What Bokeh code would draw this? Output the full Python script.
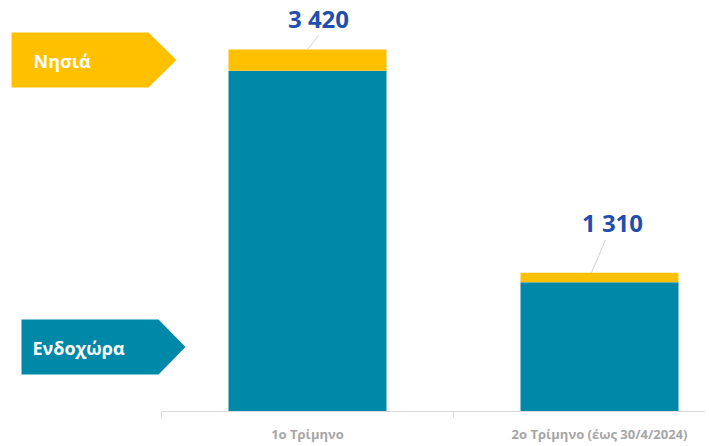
from bokeh.plotting import figure
from bokeh.models import Range1d, FixedTicker, ColumnDataSource
from bokeh.core.properties import value
from bokeh.embed import file_html
from bokeh.resources import INLINE

# ---- data ----
categories = ["1ο Τρίμηνο", "2ο Τρίμηνο (έως 30/4/2024)"]
endoxora = [3220, 1220]
nisia = [200, 90]
totals = [3420, 1310]
total_labels = ["3 420", "1 310"]
series_names = ["Ενδοχώρα", "Νησιά"]

TEAL = "#0088A8"
YELLOW = "#FFC000"
LABEL_BLUE = "#1F4EAF"

FW, FH = 705, 411
PX_PER_CAT = 292.0
PX_PER_UNIT = 362.0 / 3420.0
X0 = -307.0 / PX_PER_CAT
Y_END = FH / PX_PER_UNIT


def sx(px):
    """screen pixel x -> data x"""
    return X0 + px / PX_PER_CAT


def sy(py):
    """screen pixel y -> data y"""
    return Y_END - py / PX_PER_UNIT


p = figure(frame_width=FW, frame_height=FH, output_backend="svg", toolbar_location=None,
           x_range=Range1d(X0, X0 + FW / PX_PER_CAT), y_range=Range1d(0, Y_END),
           min_border=0, outline_line_color=None)
p.grid.visible = False
p.yaxis.visible = False
p.background_fill_color = "white"
p.border_fill_color = "white"

xs = list(range(len(categories)))
src = ColumnDataSource(dict(x=xs, endoxora=endoxora, nisia=nisia))
p.vbar_stack(["endoxora", "nisia"], x="x", width=158 / PX_PER_CAT,
             color=[TEAL, YELLOW], line_color=None, source=src)

ax = p.xaxis[0]
ax.ticker = FixedTicker(ticks=xs, minor_ticks=[-0.5, 0.5, 1.5])
ax.major_label_overrides = {i: c for i, c in enumerate(categories)}
ax.bounds = (-0.5, 1.5)
ax.axis_line_color = "#D9D9D9"
ax.major_tick_out = 0
ax.major_tick_in = 0
ax.minor_tick_out = 6
ax.minor_tick_in = 0
ax.minor_tick_line_color = "#D9D9D9"
ax.major_label_text_font = "Open Sans"
ax.major_label_text_font_size = "13px"
ax.major_label_text_font_style = "bold"
ax.major_label_text_color = "#A6A6A6"
ax.major_label_standoff = 7

# total labels with leader lines (label offsets in screen pixels)
lab_dx = [11, 13]
lab_dy = [31, 50]
lab_x = [x + dx / PX_PER_CAT for x, dx in zip(xs, lab_dx)]
lab_y = [t + dy / PX_PER_UNIT for t, dy in zip(totals, lab_dy)]
p.text(x=lab_x, y=lab_y, text=total_labels, text_font=value("Open Sans"),
       text_font_style="bold", text_font_size="24px", text_color=LABEL_BLUE,
       text_align="center", text_baseline="middle")
lead_x0 = [x + d / PX_PER_CAT for x, d in zip(xs, [0, -8])]
lead_x1 = [x + d / PX_PER_CAT for x, d in zip(xs, [11, 6])]
lead_y1 = [t + d / PX_PER_UNIT for t, d in zip(totals, [14, 33])]
p.segment(x0=lead_x0, y0=totals, x1=lead_x1, y1=lead_y1,
          line_color="#D0D0D0", line_width=1)

# pentagon series tags
tags = [
    (series_names[1], YELLOW, 11, 32, 148, 176, 87, 33),
    (series_names[0], TEAL, 21, 319, 158, 185, 374, 32),
]
for name, col, l, t, r, tip, b, tx in tags:
    mid = (t + b) / 2
    p.patch(x=[sx(l), sx(r), sx(tip), sx(r), sx(l)],
            y=[sy(t), sy(t), sy(mid), sy(b), sy(b)],
            fill_color=col, line_color=None)
    p.text(x=[sx(tx)], y=[sy(mid + 1)], text=[name], text_font=value("Open Sans"),
           text_font_style="bold", text_font_size="18px", text_color="white",
           text_align="left", text_baseline="middle")

open("out.html", "w").write(file_html(p, INLINE))
